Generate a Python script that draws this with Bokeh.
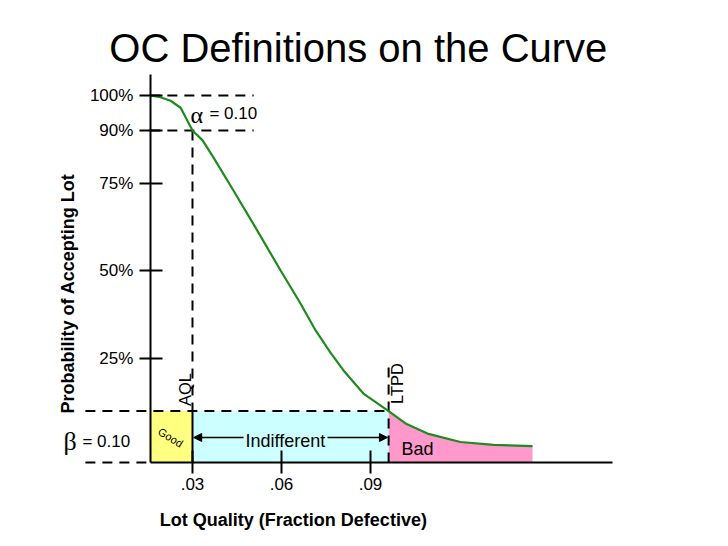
import numpy as np
from bokeh.plotting import figure
from bokeh.models import (Range1d, LinearAxis, FixedTicker, NumeralTickFormatter,
                          CustomJSTickFormatter, Arrow, NormalHead)
from bokeh.core.properties import value
from bokeh.embed import file_html
from bokeh.resources import INLINE

# ---------------- data ----------------
fraction_defective = [0.0158, 0.0192, 0.0226, 0.0260, 0.0300, 0.0334, 0.0371, 0.0438,
                      0.0512, 0.0597, 0.0664, 0.0715, 0.0765, 0.0809, 0.0876, 0.0961,
                      0.1018, 0.1092, 0.1203, 0.1315, 0.1446]
prob_accept = [1.000, 0.995, 0.985, 0.965, 0.900, 0.872, 0.823, 0.729,
               0.624, 0.501, 0.407, 0.330, 0.267, 0.216, 0.150, 0.100,
               0.065, 0.036, 0.012, 0.004, 0.0]
y_ticks = [0.25, 0.5, 0.75, 0.9, 1.0]
x_ticks = [0.03, 0.06, 0.09]
AQL = 0.03
LTPD = 0.0961
ALPHA = 0.10
BETA = 0.10

# ---------------- layout constants ----------------
X0 = 0.0158        # where the vertical axis sits
XAX_END = 0.1716   # end of horizontal axis line
Y0 = -0.0465       # where the horizontal axis sits
YAX_TOP = 1.0599   # top of vertical axis line
XL = -0.0061       # left start of beta dashed lines
XD = 0.0506        # right end of alpha dashed lines
LTPD_TOP = 0.2387  # top of LTPD dashed marker

FONT = "Liberation Sans"
SERIF = "Liberation Serif"
GREEN = "#1f8a1f"
DASH = "10 7"

p = figure(width=712, height=530,
           x_range=Range1d(-0.03471, 0.20526), y_range=Range1d(-0.2404, 1.2709),
           x_axis_location=None, y_axis_location=None,
           toolbar_location=None, output_backend="svg",
           min_border=0, outline_line_color=None)
p.background_fill_color = "white"
p.border_fill_color = "white"
p.grid.visible = False

# ---------------- axes ----------------
yaxis = LinearAxis(fixed_location=X0, bounds=(Y0, YAX_TOP),
                   ticker=FixedTicker(ticks=y_ticks),
                   formatter=NumeralTickFormatter(format="0%"))
xaxis = LinearAxis(fixed_location=Y0, bounds=(X0, XAX_END),
                   ticker=FixedTicker(ticks=x_ticks),
                   formatter=CustomJSTickFormatter(code="return tick.toFixed(2).replace(/^0/, '');"))
for ax in (xaxis, yaxis):
    ax.axis_line_width = 2
    ax.axis_line_color = "black"
    ax.major_tick_line_width = 2
    ax.major_tick_line_color = "black"
    ax.major_tick_in = 12
    ax.major_tick_out = 11
    ax.minor_tick_line_color = None
    ax.major_label_text_font = FONT
    ax.major_label_text_font_size = "17px"
    ax.major_label_text_color = "black"
yaxis.major_label_standoff = 6
xaxis.major_label_standoff = 4
p.add_layout(yaxis, "left")
p.add_layout(xaxis, "below")

# ---------------- regions ----------------
p.quad(left=[X0], right=[AQL], bottom=[Y0], top=[BETA], fill_color="#ffff80", line_color=None)
p.quad(left=[AQL], right=[LTPD], bottom=[Y0], top=[BETA], fill_color="#ccffff", line_color=None)

xs = np.array(fraction_defective)
ys = np.array(prob_accept)
mask = xs >= LTPD - 1e-9
p.varea(x=xs[mask], y1=np.full(mask.sum(), Y0), y2=ys[mask], fill_color="#ff99cc")

# ---------------- reference lines ----------------
p.segment(x0=[X0, X0], y0=[1.0, 1 - ALPHA], x1=[XD, XD], y1=[1.0, 1 - ALPHA],
          line_color="black", line_width=2, line_dash=DASH)
p.segment(x0=[AQL], y0=[1 - ALPHA], x1=[AQL], y1=[BETA],
          line_color="black", line_width=2, line_dash=DASH)
p.segment(x0=[AQL], y0=[BETA], x1=[AQL], y1=[Y0], line_color="black", line_width=2)
p.segment(x0=[LTPD], y0=[Y0], x1=[LTPD], y1=[LTPD_TOP],
          line_color="black", line_width=2, line_dash=DASH)
p.segment(x0=[XL, XL], y0=[BETA, Y0], x1=[LTPD, X0], y1=[BETA, Y0],
          line_color="black", line_width=2, line_dash=DASH)

# ---------------- OC curve ----------------
p.line(xs, ys, line_color=GREEN, line_width=2.2)

# ---------------- arrows ----------------
ARROW_Y = 0.0248
p.add_layout(Arrow(end=NormalHead(size=8, fill_color="black", line_color="black"),
                   x_start=0.0472, y_start=ARROW_Y, x_end=AQL + 0.0004, y_end=ARROW_Y,
                   line_width=1.5, line_color="black"))
p.add_layout(Arrow(end=NormalHead(size=8, fill_color="black", line_color="black"),
                   x_start=0.0755, y_start=ARROW_Y, x_end=LTPD - 0.0004, y_end=ARROW_Y,
                   line_width=1.5, line_color="black"))

# ---------------- texts ----------------
def txt(x, y, s, size, font=FONT, angle=0.0, align="center", baseline="middle", style="normal"):
    p.text(x=[x], y=[y], text=[s], text_font=value(font), text_font_size=size,
           angle=angle, text_align=align, text_baseline=baseline,
           text_font_style=style, text_color="black")

txt(0.0859, 1.1354, "OC Definitions on the Curve", "40px")
txt(0.0293, 0.9430, "α", "24px", font=SERIF, align="left")
txt(0.0357, 0.9487, "= 0.10", "17px", align="left")
txt(-0.0135, 0.0134, "β", "26px", font=SERIF, align="left")
txt(-0.0071, 0.0120, "= 0.10", "17px", align="left")
txt(-0.0121, 0.4354, "Probability of Accepting Lot", "18px", angle=np.pi / 2, style="bold")
txt(0.0640, -0.2118, "Lot Quality (Fraction Defective)", "18px", style="bold")
txt(0.0276, 0.1617, "AQL", "16.5px", angle=np.pi / 2)
txt(0.0988, 0.1788, "LTPD", "16.5px", angle=np.pi / 2)
txt(0.0226, 0.0248, "Good", "11px", angle=-0.56)
txt(0.0613, 0.0134, "Indifferent", "18px")
txt(0.1058, -0.0066, "Bad", "18px")

open("out.html", "w").write(file_html(p, INLINE))
